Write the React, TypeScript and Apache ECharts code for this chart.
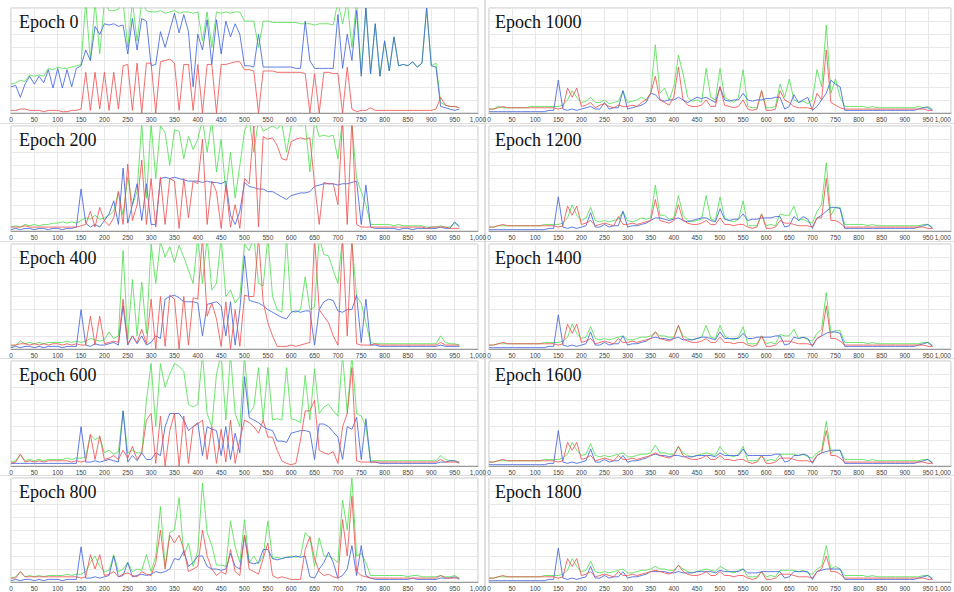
import React, { useEffect, useRef } from "react";
import * as echarts from "echarts";

// x positions of samples: 0, 10, 20, ... 960
const X_STEP = 10;
const epochs = [0, 200, 400, 600, 800, 1000, 1200, 1400, 1600, 1800];

// ---------- Epoch 0 ----------
const e0G = [
  22, 23, 25, 24, 29, 28, 29, 28, 34, 33,
  35, 34, 34, 35, 36, 37, 85, 40, 85, 45,
  85, 78, 78, 79, 85, 50, 85, 55, 85, 78,
  77, 77, 78, 76, 77, 78, 76, 77, 77, 76,
  77, 55, 77, 50, 77, 76, 77, 76, 77, 77,
  70, 70, 70, 50, 70, 70, 69, 69, 69, 69,
  69, 69, 68, 68, 68, 67, 68, 68, 68, 67,
  85, 68, 85, 50, 85, 30, 80, 30, 68, 28,
  55, 32, 58, 36, 37, 36, 39, 35, 38, 80,
  36, 38, 8, 6, 5, 5, 4,
];
const e0B = [
  20, 21, 12, 22, 28, 22, 28, 23, 33, 19,
  34, 19, 33, 20, 34, 36, 48, 40, 66, 60,
  68, 67, 68, 66, 67, 45, 72, 48, 72, 70,
  36, 37, 62, 50, 63, 76, 61, 75, 62, 20,
  60, 48, 71, 37, 71, 45, 70, 58, 68, 60,
  36, 36, 35, 60, 35, 35, 35, 35, 35, 35,
  35, 34, 34, 70, 40, 34, 34, 34, 34, 34,
  75, 34, 60, 40, 78, 28, 80, 30, 68, 28,
  55, 32, 58, 36, 37, 36, 39, 35, 38, 80,
  36, 35, 5, 4, 3, 2, 3,
];
const e0R = [
  2, 2, 3, 3, 2, 2, 2, 1, 2, 2,
  2, 1, 1, 2, 2, 3, 31, 2, 31, 3,
  31, 2, 31, 3, 36, 37, 2, 38, 0, 38,
  38, 0, 39, 40, 41, 38, 2, 37, 37, 2,
  37, 0, 37, 37, 0, 37, 37, 38, 39, 39,
  33, 33, 32, 0, 32, 32, 32, 31, 31, 31,
  31, 31, 31, 30, 0, 30, 0, 31, 31, 30,
  30, 0, 35, 3, 1, 2, 2, 4, 2, 2,
  2, 2, 2, 2, 2, 2, 2, 2, 2, 2,
  2, 3, 12, 6, 5, 5, 4,
];

// ---------- Epoch 200 ----------
const e200G = [
  3, 4, 3, 5, 4, 5, 4, 5, 5, 6,
  6, 7, 6, 7, 6, 8, 10, 9, 12, 9,
  10, 12, 15, 30, 12, 41, 20, 30, 82, 25,
  82, 40, 80, 75, 50, 77, 76, 55, 72, 62,
  70, 85, 60, 85, 45, 70, 30, 60, 25, 50,
  76, 85, 60, 85, 76, 78, 80, 78, 82, 60,
  80, 82, 80, 82, 45, 85, 72, 73, 72, 73,
  55, 85, 85, 82, 40, 30, 20, 5, 5, 5,
  5, 5, 4, 5, 4, 4, 4, 4, 4, 3,
  3, 3, 4, 3, 3, 6, 4,
];
const e200B = [
  1, 2, 1, 2, 2, 1, 2, 2, 1, 2,
  2, 1, 2, 2, 3, 32, 6, 3, 5, 3,
  8, 13, 23, 5, 48, 6, 20, 36, 8, 36,
  5, 5, 40, 41, 40, 41, 40, 39, 38, 38,
  38, 37, 38, 37, 37, 36, 38, 12, 5, 15,
  37, 34, 33, 32, 32, 30, 30, 28, 26, 24,
  27, 28, 29, 29, 30, 34, 35, 36, 36, 36,
  35, 36, 36, 37, 38, 5, 35, 3, 2, 2,
  2, 2, 2, 1, 2, 2, 1, 2, 2, 2,
  2, 2, 3, 2, 2, 7, 3,
];
const e200R = [
  3, 3, 3, 4, 3, 3, 3, 3, 3, 3,
  3, 3, 3, 3, 3, 4, 5, 15, 3, 18,
  8, 4, 10, 30, 5, 51, 8, 20, 54, 5,
  40, 3, 41, 5, 40, 38, 2, 40, 10, 38,
  36, 70, 5, 38, 30, 2, 35, 3, 20, 2,
  40, 36, 80, 3, 72, 70, 71, 65, 55, 54,
  68, 70, 71, 70, 71, 36, 5, 37, 36, 36,
  20, 85, 5, 85, 5, 3, 3, 3, 3, 3,
  3, 3, 3, 3, 3, 3, 3, 3, 3, 2,
  3, 3, 3, 3, 2, 2, 2,
];

// ---------- Epoch 400 ----------
const e400G = [
  2, 3, 6, 4, 5, 4, 5, 4, 5, 5,
  5, 5, 6, 5, 6, 5, 6, 8, 7, 6,
  7, 13, 8, 10, 75, 8, 53, 10, 51, 12,
  80, 50, 82, 70, 78, 66, 79, 70, 60, 50,
  85, 50, 85, 45, 50, 85, 40, 45, 35, 40,
  80, 75, 85, 50, 48, 85, 40, 30, 28, 85,
  29, 28, 30, 55, 30, 32, 85, 72, 71, 60,
  50, 85, 85, 82, 40, 35, 20, 5, 4, 4,
  4, 4, 4, 4, 4, 4, 4, 4, 4, 4,
  4, 4, 10, 5, 4, 4, 3,
];
const e400B = [
  1, 2, 1, 2, 2, 1, 2, 1, 2, 2,
  2, 1, 2, 2, 2, 30, 3, 2, 4, 3,
  3, 4, 5, 3, 33, 3, 10, 4, 10, 3,
  5, 10, 8, 38, 40, 41, 39, 36, 36, 36,
  35, 10, 34, 35, 36, 33, 10, 36, 3, 30,
  71, 37, 36, 35, 33, 30, 28, 26, 24, 23,
  28, 29, 28, 29, 29, 3, 30, 36, 38, 37,
  29, 28, 30, 30, 41, 5, 38, 3, 3, 2,
  2, 2, 2, 2, 2, 2, 2, 2, 2, 2,
  2, 2, 3, 2, 2, 2, 2,
];
const e400R = [
  3, 3, 4, 4, 3, 4, 3, 4, 3, 4,
  4, 3, 4, 3, 4, 3, 3, 25, 3, 25,
  4, 5, 6, 5, 38, 4, 10, 5, 15, 4,
  38, 0, 40, 2, 41, 38, 0, 40, 3, 39,
  38, 85, 25, 35, 23, 2, 36, 0, 30, 2,
  41, 40, 40, 85, 36, 20, 10, 2, 2, 2,
  3, 2, 3, 4, 5, 85, 30, 25, 20, 10,
  3, 85, 10, 85, 4, 3, 3, 3, 4, 3,
  3, 3, 3, 3, 3, 3, 3, 3, 3, 3,
  3, 3, 5, 3, 3, 3, 3,
];

// ---------- Epoch 600 ----------
const e600G = [
  3, 4, 9, 4, 5, 4, 5, 4, 5, 5,
  5, 5, 6, 5, 6, 6, 7, 24, 20, 22,
  10, 12, 9, 11, 42, 10, 12, 10, 10, 50,
  78, 30, 78, 60, 70, 78, 76, 72, 47, 45,
  47, 85, 40, 30, 70, 85, 35, 85, 40, 30,
  85, 40, 45, 75, 35, 75, 35, 36, 35, 75,
  36, 35, 33, 69, 35, 74, 40, 45, 47, 42,
  38, 85, 40, 85, 40, 38, 30, 4, 4, 4,
  4, 4, 4, 4, 4, 4, 4, 4, 4, 4,
  4, 4, 8, 5, 4, 4, 3,
];
const e600B = [
  2, 2, 2, 2, 2, 2, 2, 2, 2, 2,
  2, 2, 2, 2, 2, 30, 3, 3, 4, 3,
  4, 5, 4, 3, 42, 3, 8, 4, 10, 5,
  5, 10, 8, 30, 40, 40, 40, 35, 27, 30,
  33, 8, 30, 28, 27, 8, 30, 5, 25, 10,
  68, 37, 35, 33, 30, 28, 27, 19, 19, 18,
  25, 26, 27, 27, 26, 5, 32, 32, 30, 26,
  22, 5, 30, 28, 37, 5, 36, 3, 3, 2,
  2, 2, 2, 2, 2, 2, 2, 2, 2, 2,
  2, 2, 3, 3, 4, 4, 2,
];
const e600R = [
  2, 3, 9, 3, 4, 3, 4, 3, 4, 4,
  4, 4, 4, 3, 4, 3, 4, 24, 5, 23,
  5, 6, 8, 5, 12, 6, 15, 5, 10, 35,
  40, 2, 38, 0, 27, 40, 0, 38, 2, 30,
  32, 35, 5, 30, 2, 28, 3, 35, 2, 20,
  35, 33, 30, 25, 35, 22, 22, 12, 4, 2,
  1, 2, 20, 42, 42, 50, 12, 10, 9, 11,
  2, 30, 40, 75, 4, 3, 3, 3, 3, 3,
  3, 3, 3, 3, 3, 3, 3, 3, 3, 3,
  3, 3, 5, 3, 3, 3, 3,
];

// ---------- Epoch 800 ----------
const e800G = [
  3, 4, 8, 4, 5, 4, 5, 4, 5, 5,
  5, 5, 6, 5, 6, 6, 8, 15, 20, 12,
  8, 9, 21, 8, 10, 15, 8, 10, 9, 21,
  8, 20, 58, 12, 38, 40, 65, 20, 30, 12,
  24, 76, 38, 28, 13, 13, 12, 47, 27, 15,
  48, 15, 20, 14, 20, 47, 18, 19, 18, 19,
  20, 19, 20, 38, 34, 12, 34, 20, 20, 18,
  15, 63, 40, 80, 20, 22, 15, 5, 5, 5,
  5, 5, 5, 5, 5, 4, 5, 5, 4, 4,
  4, 4, 5, 4, 4, 5, 3,
];
const e800B = [
  1, 2, 1, 2, 2, 1, 2, 1, 2, 2,
  2, 1, 2, 2, 2, 27, 3, 3, 4, 3,
  4, 5, 20, 4, 5, 15, 4, 5, 6, 5,
  6, 8, 7, 8, 10, 18, 17, 24, 12, 15,
  20, 20, 12, 10, 10, 9, 10, 22, 12, 10,
  36, 15, 14, 15, 25, 25, 18, 17, 18, 19,
  19, 20, 19, 20, 4, 3, 10, 15, 23, 15,
  3, 5, 10, 28, 5, 28, 5, 3, 2, 2,
  2, 2, 2, 2, 2, 2, 3, 2, 2, 2,
  2, 2, 3, 3, 3, 4, 2,
];
const e800R = [
  3, 3, 8, 4, 4, 4, 4, 4, 4, 4,
  4, 4, 4, 4, 4, 3, 4, 21, 10, 21,
  5, 6, 8, 4, 6, 7, 5, 4, 8, 6,
  5, 15, 40, 10, 36, 30, 36, 25, 8, 10,
  12, 40, 20, 10, 5, 8, 6, 25, 8, 5,
  36, 10, 8, 6, 18, 30, 5, 3, 4, 3,
  2, 2, 2, 25, 35, 18, 8, 5, 6, 4,
  3, 48, 20, 66, 8, 5, 4, 3, 3, 3,
  3, 3, 3, 3, 3, 3, 3, 3, 3, 3,
  3, 3, 5, 3, 3, 3, 3,
];

// ---------- Epoch 1000 ----------
const e1000G = [
  3, 3, 5, 4, 4, 4, 4, 4, 4, 5,
  5, 5, 5, 5, 5, 5, 6, 10, 17, 12,
  8, 9, 12, 8, 8, 10, 7, 8, 9, 17,
  8, 9, 10, 12, 10, 15, 52, 15, 19, 10,
  20, 44, 30, 12, 9, 10, 8, 34, 12, 10,
  34, 12, 10, 8, 12, 33, 5, 4, 4, 17,
  4, 4, 5, 22, 12, 26, 10, 8, 9, 7,
  10, 33, 20, 67, 15, 26, 12, 5, 5, 5,
  5, 5, 4, 5, 4, 4, 4, 4, 4, 4,
  4, 4, 4, 5, 4, 5, 3,
];
const e1000B = [
  1, 1, 1, 1, 1, 1, 1, 1, 1, 1,
  1, 1, 1, 2, 2, 25, 3, 2, 3, 2,
  3, 4, 5, 3, 3, 8, 3, 4, 4, 17,
  3, 4, 5, 6, 8, 15, 14, 10, 9, 10,
  10, 12, 10, 8, 10, 12, 11, 12, 10, 8,
  20, 10, 9, 10, 10, 15, 10, 9, 10, 10,
  11, 11, 12, 12, 3, 5, 14, 8, 10, 12,
  2, 5, 10, 15, 25, 22, 20, 2, 2, 2,
  2, 2, 2, 2, 2, 2, 2, 2, 2, 2,
  2, 2, 2, 3, 4, 4, 2,
];
const e1000R = [
  3, 3, 4, 5, 4, 4, 4, 4, 4, 4,
  4, 4, 4, 4, 4, 3, 4, 19, 12, 19,
  5, 6, 8, 4, 6, 7, 5, 4, 6, 5,
  5, 6, 5, 8, 10, 15, 28, 10, 8, 6,
  12, 35, 10, 6, 5, 5, 6, 10, 5, 5,
  20, 6, 5, 4, 5, 10, 3, 2, 3, 17,
  2, 2, 3, 17, 10, 8, 5, 4, 4, 4,
  3, 15, 10, 48, 8, 6, 4, 3, 3, 3,
  3, 3, 3, 3, 3, 3, 3, 3, 3, 3,
  3, 3, 3, 3, 3, 2, 2,
];

// ---------- Epoch 1200 ----------
const e1200G = [
  3, 3, 4, 4, 4, 4, 4, 4, 4, 4,
  4, 4, 5, 5, 5, 5, 6, 10, 20, 12,
  8, 10, 18, 8, 7, 8, 7, 8, 9, 15,
  8, 7, 8, 10, 9, 10, 35, 12, 12, 9,
  10, 27, 12, 8, 7, 8, 9, 27, 9, 8,
  26, 10, 8, 7, 9, 23, 4, 4, 4, 13,
  4, 5, 4, 13, 12, 12, 19, 8, 9, 7,
  6, 15, 20, 52, 12, 18, 18, 5, 5, 5,
  5, 5, 4, 5, 4, 4, 4, 4, 4, 4,
  4, 4, 4, 4, 5, 5, 3,
];
const e1200B = [
  1, 1, 1, 1, 1, 1, 1, 1, 1, 1,
  1, 1, 1, 2, 2, 26, 3, 2, 3, 2,
  3, 4, 14, 3, 3, 5, 3, 4, 4, 15,
  3, 4, 4, 5, 6, 8, 10, 10, 9, 8,
  9, 10, 8, 7, 8, 9, 10, 10, 8, 7,
  17, 9, 8, 9, 9, 13, 8, 9, 9, 10,
  10, 10, 11, 11, 3, 4, 11, 8, 11, 9,
  2, 10, 12, 15, 18, 18, 17, 2, 2, 2,
  2, 2, 2, 2, 2, 2, 2, 2, 2, 2,
  2, 2, 2, 3, 4, 5, 2,
];
const e1200R = [
  3, 3, 4, 5, 4, 4, 4, 4, 4, 4,
  4, 4, 4, 4, 4, 3, 4, 19, 12, 19,
  5, 6, 8, 4, 5, 6, 5, 4, 11, 5,
  5, 6, 5, 6, 7, 8, 24, 8, 7, 6,
  8, 20, 8, 6, 5, 5, 6, 8, 5, 5,
  10, 5, 5, 4, 5, 5, 3, 2, 3, 13,
  2, 2, 3, 8, 6, 6, 5, 4, 4, 4,
  3, 10, 10, 40, 8, 8, 6, 3, 3, 3,
  3, 3, 3, 3, 3, 3, 3, 3, 3, 3,
  3, 3, 3, 3, 3, 2, 2,
];

// ---------- Epoch 1400 ----------
const e1400G = [
  3, 3, 4, 4, 4, 4, 4, 4, 4, 4,
  4, 4, 5, 5, 5, 5, 6, 9, 19, 12,
  8, 9, 17, 8, 7, 8, 7, 8, 9, 10,
  7, 7, 8, 9, 9, 10, 13, 10, 10, 9,
  9, 18, 10, 8, 7, 8, 9, 18, 9, 8,
  18, 10, 8, 7, 9, 17, 4, 4, 4, 10,
  4, 5, 4, 11, 10, 10, 15, 8, 9, 7,
  6, 12, 15, 43, 12, 14, 14, 5, 5, 5,
  5, 5, 4, 5, 4, 4, 4, 4, 4, 4,
  4, 4, 4, 4, 5, 5, 3,
];
const e1400B = [
  1, 1, 1, 1, 1, 1, 1, 1, 1, 1,
  1, 1, 1, 2, 2, 26, 3, 2, 3, 2,
  3, 4, 13, 3, 3, 5, 3, 4, 4, 10,
  3, 4, 4, 5, 6, 8, 9, 8, 8, 7,
  8, 9, 7, 7, 7, 8, 9, 9, 8, 7,
  13, 8, 8, 8, 8, 12, 8, 8, 9, 9,
  9, 9, 10, 10, 3, 4, 9, 8, 9, 8,
  2, 8, 10, 12, 13, 13, 12, 2, 2, 2,
  2, 2, 2, 2, 2, 2, 2, 2, 2, 2,
  2, 2, 2, 3, 4, 5, 2,
];
const e1400R = [
  3, 3, 4, 5, 4, 4, 4, 4, 4, 4,
  4, 4, 4, 4, 4, 3, 4, 19, 12, 19,
  5, 6, 8, 4, 5, 6, 5, 4, 8, 5,
  5, 6, 5, 6, 7, 8, 13, 8, 7, 6,
  8, 18, 8, 6, 5, 5, 6, 8, 5, 5,
  9, 5, 5, 4, 5, 5, 3, 2, 3, 10,
  2, 2, 3, 6, 6, 6, 5, 4, 4, 4,
  3, 8, 10, 33, 8, 8, 6, 3, 3, 3,
  3, 3, 3, 3, 3, 3, 3, 3, 3, 3,
  3, 3, 3, 3, 3, 2, 2,
];

// ---------- Epoch 1600 ----------
const e1600G = [
  3, 3, 4, 4, 4, 4, 4, 4, 4, 4,
  4, 4, 5, 5, 5, 5, 6, 9, 18, 12,
  8, 9, 17, 8, 7, 8, 7, 8, 9, 10,
  7, 7, 8, 9, 9, 10, 16, 10, 10, 9,
  9, 15, 10, 8, 7, 8, 9, 10, 9, 8,
  15, 10, 8, 7, 9, 15, 4, 4, 4, 8,
  4, 5, 4, 9, 9, 9, 9, 8, 9, 7,
  6, 10, 12, 34, 10, 12, 12, 5, 5, 5,
  5, 5, 4, 5, 4, 4, 4, 4, 4, 4,
  4, 4, 4, 4, 5, 5, 3,
];
const e1600B = [
  1, 1, 1, 1, 1, 1, 1, 1, 1, 1,
  1, 1, 1, 2, 2, 27, 3, 2, 3, 2,
  3, 4, 13, 3, 3, 5, 3, 4, 4, 8,
  3, 4, 4, 5, 6, 8, 9, 8, 8, 7,
  8, 8, 7, 7, 7, 8, 8, 8, 8, 7,
  10, 8, 8, 8, 8, 13, 8, 8, 8, 8,
  8, 8, 9, 9, 3, 4, 8, 8, 9, 8,
  2, 8, 10, 11, 12, 12, 12, 2, 2, 2,
  2, 2, 2, 2, 2, 2, 2, 2, 2, 2,
  2, 2, 2, 3, 4, 5, 2,
];
const e1600R = [
  3, 3, 4, 5, 4, 4, 4, 4, 4, 4,
  4, 4, 4, 4, 4, 3, 4, 18, 12, 18,
  5, 6, 8, 4, 5, 6, 5, 4, 8, 5,
  5, 6, 5, 6, 7, 8, 10, 8, 7, 6,
  8, 15, 8, 6, 5, 5, 6, 8, 5, 5,
  8, 5, 5, 4, 5, 5, 3, 2, 3, 8,
  2, 2, 3, 6, 6, 6, 5, 4, 4, 4,
  3, 8, 10, 27, 8, 8, 6, 3, 3, 3,
  3, 3, 3, 3, 3, 3, 3, 3, 3, 3,
  3, 3, 3, 3, 3, 2, 2,
];

// ---------- Epoch 1800 ----------
const e1800G = [
  3, 3, 4, 4, 4, 4, 4, 4, 4, 4,
  4, 4, 5, 5, 5, 5, 6, 9, 18, 12,
  8, 9, 16, 8, 7, 8, 7, 8, 9, 10,
  7, 7, 8, 9, 9, 10, 12, 10, 10, 9,
  9, 13, 10, 8, 7, 8, 9, 10, 9, 8,
  12, 10, 8, 7, 9, 10, 4, 4, 4, 8,
  4, 5, 4, 9, 9, 9, 9, 8, 9, 7,
  6, 10, 12, 28, 10, 12, 10, 5, 5, 5,
  5, 5, 4, 5, 4, 4, 4, 4, 4, 4,
  4, 4, 4, 4, 5, 5, 3,
];
const e1800B = [
  1, 1, 1, 1, 1, 1, 1, 1, 1, 1,
  1, 1, 1, 2, 2, 26, 3, 2, 3, 2,
  3, 4, 12, 3, 3, 5, 3, 4, 4, 8,
  3, 4, 4, 5, 6, 8, 8, 8, 8, 7,
  7, 8, 7, 7, 7, 8, 8, 8, 8, 7,
  9, 8, 8, 8, 8, 10, 7, 7, 7, 8,
  8, 8, 8, 8, 3, 4, 8, 8, 8, 8,
  2, 8, 9, 10, 10, 10, 10, 2, 2, 2,
  2, 2, 2, 2, 2, 2, 2, 2, 2, 2,
  2, 2, 2, 3, 4, 5, 2,
];
const e1800R = [
  3, 3, 4, 5, 4, 4, 4, 4, 4, 4,
  4, 4, 4, 4, 4, 3, 4, 18, 12, 18,
  5, 6, 8, 4, 5, 6, 5, 4, 8, 5,
  5, 6, 5, 6, 7, 8, 9, 8, 7, 6,
  8, 13, 8, 6, 5, 5, 6, 8, 5, 5,
  8, 5, 5, 4, 5, 5, 3, 2, 3, 8,
  2, 2, 3, 6, 6, 6, 5, 4, 4, 4,
  3, 8, 10, 20, 8, 8, 6, 3, 3, 3,
  3, 3, 3, 3, 3, 3, 3, 3, 3, 3,
  3, 3, 3, 3, 3, 2, 2,
];

const greens = [e0G, e200G, e400G, e600G, e800G, e1000G, e1200G, e1400G, e1600G, e1800G];
const blues = [e0B, e200B, e400B, e600B, e800B, e1000B, e1200B, e1400B, e1600B, e1800B];
const reds = [e0R, e200R, e400R, e600R, e800R, e1000R, e1200R, e1400R, e1600R, e1800R];

const GREEN = "#55e055";
const BLUE = "#4466dd";
const RED = "#f05555";

const ROW_TOPS = [8, 126, 244, 361, 478];
const COL_LEFTS = [11, 489];
const COL_WIDTHS = [467, 464];
const PLOT_H = 105;

function toPairs(arr: number[]) {
  return arr.map((v, i) => [i * X_STEP, v]);
}

export default function App() {
  const ref = useRef<HTMLDivElement>(null);
  useEffect(() => {
    if (!ref.current) return;
    const chart = echarts.init(ref.current, undefined, { renderer: "svg" });
    const grids: any[] = [];
    const xAxes: any[] = [];
    const yAxes: any[] = [];
    const series: any[] = [];
    const titles: any[] = [];
    epochs.forEach((ep, k) => {
      const col = k < 5 ? 0 : 1;
      const row = k % 5;
      const left = COL_LEFTS[col];
      const top = ROW_TOPS[row];
      grids.push({
        left,
        top,
        width: COL_WIDTHS[col],
        height: PLOT_H,
        show: true,
        borderColor: "#c4c4c4",
        borderWidth: 1,
        backgroundColor: "#ffffff",
        containLabel: false,
      });
      xAxes.push({
        gridIndex: k,
        type: "value",
        min: 0,
        max: 1000,
        interval: 50,
        axisLine: { show: true, lineStyle: { color: "#9a9a9a" } },
        axisTick: { show: false },
        axisLabel: {
          fontSize: 6.5,
          color: "#444",
          margin: 3,
          fontFamily: "Liberation Sans",
          alignMaxLabel: col === 1 ? "right" : "center",
          formatter: (v: number) => (v === 1000 ? "1,000" : String(v)),
        },
        splitLine: { show: true, lineStyle: { color: "#e8e8e8", width: 1 } },
      });
      yAxes.push({
        gridIndex: k,
        type: "value",
        min: 0,
        max: 80,
        interval: 10,
        axisLabel: { show: false },
        axisLine: { show: false },
        axisTick: { show: false },
        splitLine: { show: true, lineStyle: { color: "#e8e8e8", width: 1 } },
      });
      const mk = (name: string, data: number[], color: string, z: number) => ({
        name,
        type: "line",
        xAxisIndex: k,
        yAxisIndex: k,
        data: toPairs(data),
        showSymbol: false,
        symbol: "none",
        silent: true,
        clip: true,
        z,
        lineStyle: { color, width: 1, opacity: 0.85 },
        itemStyle: { color },
      });
      series.push(mk("green", greens[k], GREEN, 2));
      series.push(mk("blue", blues[k], BLUE, 3));
      series.push(mk("red", reds[k], RED, 4));
      titles.push({
        text: "Epoch " + ep,
        left: left + (col === 0 ? 8 : 6),
        top: top + 5,
        padding: 0,
        textStyle: {
          fontFamily: "Liberation Serif",
          fontSize: 18,
          fontWeight: "normal",
          color: "#111",
        },
      });
    });
    const graphics: any[] = [
      { type: "rect", shape: { x: 484, y: 0, width: 2, height: 592 }, style: { fill: "#dedede" }, z: -1 },
    ];
    [123, 241, 358, 475].forEach((y) => {
      graphics.push({ type: "rect", shape: { x: 0, y, width: 954, height: 1 }, style: { fill: "#dedede" }, z: -1 });
    });
    chart.setOption({
      animation: false,
      backgroundColor: "#ffffff",
      title: titles,
      grid: grids,
      xAxis: xAxes,
      yAxis: yAxes,
      series,
      graphic: graphics,
    });
    return () => chart.dispose();
  }, []);
  return (
    <div
      ref={ref}
      style={{ position: "fixed", left: 0, top: 0, width: 954, height: 592, background: "#fff" }}
    />
  );
}
